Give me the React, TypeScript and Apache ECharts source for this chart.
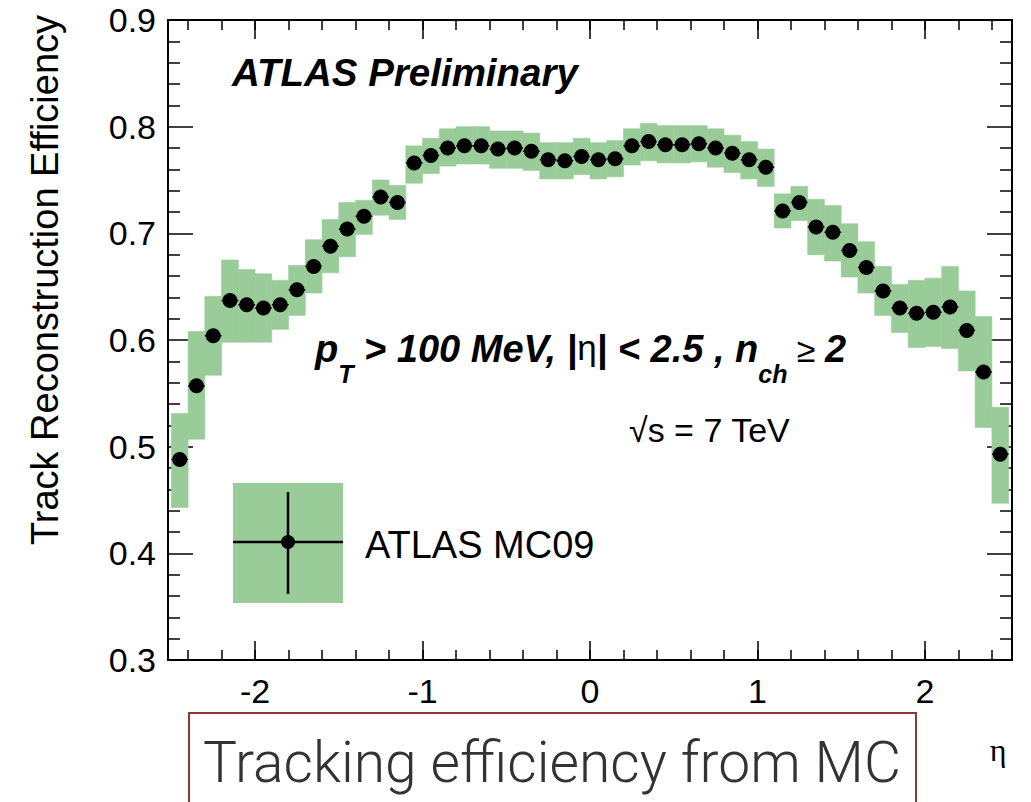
import React, { useEffect, useRef } from "react";
import * as echarts from "echarts";

// ---- data ----
const etaCenters = [
  -2.45, -2.35, -2.25, -2.15, -2.05, -1.95, -1.85, -1.75, -1.65, -1.55,
  -1.45, -1.35, -1.25, -1.15, -1.05, -0.95, -0.85, -0.75, -0.65, -0.55,
  -0.45, -0.35, -0.25, -0.15, -0.05, 0.05, 0.15, 0.25, 0.35, 0.45,
  0.55, 0.65, 0.75, 0.85, 0.95, 1.05, 1.15, 1.25, 1.35, 1.45,
  1.55, 1.65, 1.75, 1.85, 1.95, 2.05, 2.15, 2.25, 2.35, 2.45,
];
const efficiency = [
  0.488, 0.557, 0.604, 0.637, 0.633, 0.630, 0.633, 0.647, 0.669, 0.688,
  0.704, 0.716, 0.734, 0.729, 0.766, 0.773, 0.780, 0.782, 0.782, 0.779,
  0.780, 0.777, 0.769, 0.768, 0.772, 0.769, 0.770, 0.782, 0.786, 0.783,
  0.783, 0.784, 0.780, 0.775, 0.769, 0.762, 0.721, 0.729, 0.706, 0.701,
  0.684, 0.668, 0.646, 0.630, 0.625, 0.626, 0.631, 0.609, 0.570, 0.493,
];
const bandLow = [
  0.443, 0.507, 0.567, 0.598, 0.598, 0.598, 0.610, 0.623, 0.644, 0.663,
  0.678, 0.699, 0.717, 0.713, 0.747, 0.756, 0.763, 0.765, 0.765, 0.761,
  0.761, 0.759, 0.751, 0.751, 0.755, 0.751, 0.753, 0.764, 0.768, 0.766,
  0.766, 0.767, 0.762, 0.757, 0.751, 0.744, 0.705, 0.712, 0.680, 0.674,
  0.659, 0.644, 0.623, 0.607, 0.593, 0.594, 0.592, 0.571, 0.518, 0.447,
];
const bandHigh = [
  0.531, 0.608, 0.641, 0.675, 0.666, 0.662, 0.656, 0.670, 0.694, 0.713,
  0.729, 0.731, 0.750, 0.745, 0.782, 0.789, 0.798, 0.800, 0.800, 0.796,
  0.796, 0.794, 0.785, 0.785, 0.789, 0.785, 0.787, 0.798, 0.803, 0.801,
  0.801, 0.801, 0.798, 0.792, 0.786, 0.779, 0.737, 0.744, 0.732, 0.726,
  0.709, 0.692, 0.669, 0.652, 0.656, 0.658, 0.669, 0.646, 0.622, 0.537,
];
const binHalfWidth = 0.05;
const xMajorTicks = [-2, -1, 0, 1, 2];
const xMinorTicks = [
  -2.4, -2.2, -2.0, -1.8, -1.6, -1.4, -1.2, -1.0, -0.8, -0.6, -0.4, -0.2, 0,
  0.2, 0.4, 0.6, 0.8, 1.0, 1.2, 1.4, 1.6, 1.8, 2.0, 2.2, 2.4,
];
const xRange = [-2.52, 2.52];
const yRange = [0.3, 0.9];
const yInterval = 0.1;

const SANS = "'Liberation Sans', Arial, Helvetica, sans-serif";
const GREEN = "#99cc99";

export default function App() {
  const ref = useRef<HTMLDivElement>(null);

  useEffect(() => {
    if (!ref.current) return;
    const chart = echarts.init(ref.current, null, { renderer: "svg" });

    const bandData = etaCenters.map((e, i) => [e, bandLow[i], bandHigh[i]]);
    const pointData = etaCenters.map((e, i) => [e, efficiency[i]]);

    const tickStyle = { color: "#000", width: 1.5 };
    const frameLine = { show: true, onZero: false, lineStyle: { color: "#000", width: 2 } };
    const noLine = { show: false, onZero: false };
    const baseX = {
      type: "value",
      min: xRange[0],
      max: xRange[1],
      splitLine: { show: false },
    };
    const baseY = {
      type: "value",
      min: yRange[0],
      max: yRange[1],
      interval: yInterval,
      splitLine: { show: false },
    };

    const option: any = {
      animation: false,
      backgroundColor: "#fff",
      grid: { left: 168, right: 19, top: 20, bottom: 142, containLabel: false },
      xAxis: [
        {
          ...baseX,
          position: "bottom",
          axisLine: frameLine,
          axisTick: { show: true, inside: true, length: 19, customValues: xMajorTicks, lineStyle: tickStyle },
          axisLabel: {
            show: true,
            customValues: xMajorTicks,
            fontSize: 34,
            color: "#000",
            fontFamily: SANS,
            margin: 14,
            formatter: (v: number) => String(v),
          },
        },
        {
          ...baseX,
          position: "bottom",
          axisLine: noLine,
          axisTick: { show: true, inside: true, length: 10, customValues: xMinorTicks, lineStyle: tickStyle },
          axisLabel: { show: false },
        },
        {
          ...baseX,
          position: "top",
          axisLine: frameLine,
          axisTick: { show: true, inside: true, length: 19, customValues: xMajorTicks, lineStyle: tickStyle },
          axisLabel: { show: false },
        },
        {
          ...baseX,
          position: "top",
          axisLine: noLine,
          axisTick: { show: true, inside: true, length: 10, customValues: xMinorTicks, lineStyle: tickStyle },
          axisLabel: { show: false },
        },
      ],
      yAxis: [
        {
          ...baseY,
          position: "left",
          axisLine: frameLine,
          axisTick: { show: true, inside: true, length: 25, lineStyle: tickStyle },
          minorTick: { show: true, splitNumber: 5, length: 12, lineStyle: tickStyle },
          axisLabel: {
            show: true,
            fontSize: 34,
            color: "#000",
            fontFamily: SANS,
            margin: 12,
            formatter: (v: number) => v.toFixed(1),
          },
        },
        {
          ...baseY,
          position: "right",
          axisLine: frameLine,
          axisTick: { show: true, inside: true, length: 25, lineStyle: tickStyle },
          minorTick: { show: true, splitNumber: 5, length: 12, lineStyle: tickStyle },
          axisLabel: { show: false },
        },
      ],
      series: [
        {
          type: "custom",
          name: "band",
          xAxisIndex: 0,
          yAxisIndex: 0,
          data: bandData,
          renderItem: (params: any, api: any) => {
            const e = api.value(0);
            const p0 = api.coord([e - binHalfWidth, api.value(2)]);
            const p1 = api.coord([e + binHalfWidth, api.value(1)]);
            return {
              type: "rect",
              shape: { x: p0[0], y: p0[1], width: p1[0] - p0[0], height: p1[1] - p0[1] },
              style: { fill: GREEN, stroke: GREEN, lineWidth: 0.6 },
            };
          },
          z: 1,
        },
        {
          type: "custom",
          name: "xerr",
          xAxisIndex: 0,
          yAxisIndex: 0,
          data: pointData,
          renderItem: (params: any, api: any) => {
            const e = api.value(0);
            const v = api.value(1);
            const a = api.coord([e - binHalfWidth, v]);
            const b = api.coord([e + binHalfWidth, v]);
            return {
              type: "line",
              shape: { x1: a[0], y1: a[1], x2: b[0], y2: b[1] },
              style: { stroke: "#000", lineWidth: 1.5 },
            };
          },
          z: 2,
        },
        {
          type: "scatter",
          name: "ATLAS MC09",
          xAxisIndex: 0,
          yAxisIndex: 0,
          data: pointData,
          symbol: "circle",
          symbolSize: 15,
          itemStyle: { color: "#000", opacity: 1 },
          z: 3,
        },
      ],
      graphic: [
        {
          type: "text",
          x: 45,
          y: 280,
          rotation: Math.PI / 2,
          style: {
            text: "Track Reconstruction Efficiency",
            font: `38px ${SANS}`,
            fill: "#000",
            align: "center",
            verticalAlign: "middle",
          },
        },
        {
          type: "text",
          x: 232,
          y: 72,
          style: {
            text: "ATLAS Preliminary",
            font: `italic bold 38.5px ${SANS}`,
            fill: "#000",
            align: "left",
            verticalAlign: "middle",
          },
        },
        {
          type: "text",
          x: 315,
          y: 330,
          style: {
            text: "{b|p}{s|T}{b| > 100 MeV, |}{e|η}{b|| < 2.5 , n}{s|ch}{r| ≥ }{b|2}",
            align: "left",
            verticalAlign: "top",
            rich: {
              b: { fontSize: 38, fontStyle: "italic", fontWeight: "bold", fontFamily: SANS, fill: "#000", lineHeight: 38, verticalAlign: "top" },
              e: { fontSize: 35, fontFamily: SANS, fill: "#000", lineHeight: 38, verticalAlign: "top" },
              r: { fontSize: 34, fontFamily: SANS, fill: "#000", lineHeight: 38, verticalAlign: "top", padding: [3, 0, 0, 0] },
              s: { fontSize: 25, fontStyle: "italic", fontWeight: "bold", fontFamily: SANS, fill: "#000", lineHeight: 56, verticalAlign: "bottom" },
            },
          },
        },
        {
          type: "text",
          x: 629,
          y: 430,
          style: {
            text: "√s = 7 TeV",
            font: `34px ${SANS}`,
            fill: "#000",
            align: "left",
            verticalAlign: "middle",
          },
        },
        // legend
        {
          type: "rect",
          shape: { x: 233, y: 483, width: 110, height: 120 },
          style: { fill: GREEN },
        },
        {
          type: "line",
          shape: { x1: 233, y1: 542, x2: 343, y2: 542 },
          style: { stroke: "#000", lineWidth: 2.5 },
        },
        {
          type: "line",
          shape: { x1: 288, y1: 492, x2: 288, y2: 594 },
          style: { stroke: "#000", lineWidth: 2.5 },
        },
        {
          type: "circle",
          shape: { cx: 288, cy: 542, r: 7 },
          style: { fill: "#000" },
        },
        {
          type: "text",
          x: 365,
          y: 545,
          style: {
            text: "ATLAS MC09",
            font: `38px ${SANS}`,
            fill: "#000",
            align: "left",
            verticalAlign: "middle",
          },
        },
        // axis title eta
        {
          type: "text",
          x: 998,
          y: 750,
          style: {
            text: "η",
            font: "32px 'Liberation Serif', 'DejaVu Serif', serif",
            fill: "#000",
            align: "center",
            verticalAlign: "middle",
          },
        },
        // caption box
        {
          type: "rect",
          shape: { x: 189, y: 713, width: 727, height: 110 },
          style: { fill: "none", stroke: "#8b3a33", lineWidth: 2 },
        },
        {
          type: "text",
          x: 203,
          y: 762,
          style: {
            text: "Tracking efficiency from MC",
            font: "300 57px Roboto, 'Open Sans', sans-serif",
            fill: "#333",
            align: "left",
            verticalAlign: "middle",
          },
        },
      ],
    };

    chart.setOption(option);
    return () => {
      chart.dispose();
    };
  }, []);

  return (
    <div
      ref={ref}
      style={{ position: "absolute", left: 0, top: 0, width: 1031, height: 802 }}
    />
  );
}
